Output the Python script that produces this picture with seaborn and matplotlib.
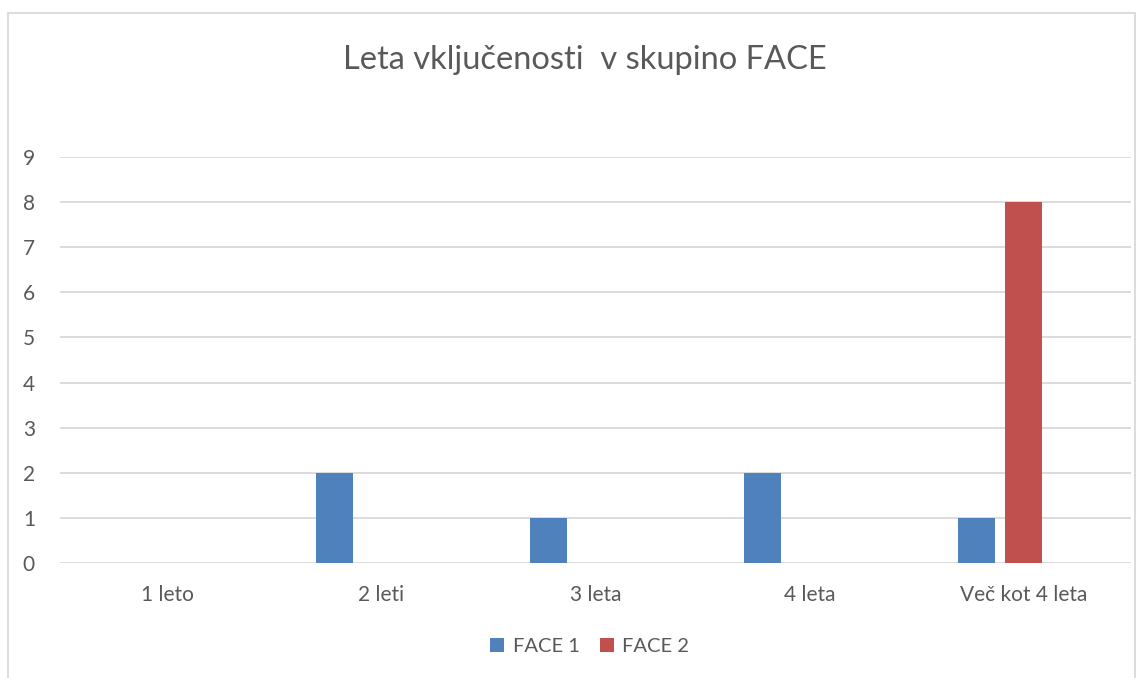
import numpy as np
import pandas as pd
import matplotlib
matplotlib.use('Agg')
import matplotlib.pyplot as plt
import seaborn as sns
from matplotlib.patches import Rectangle

# datos
kategorije = ['1 leto', '2 leti', '3 leta', '4 leta', 'Več kot 4 leta']
face1 = [0, 2, 1, 2, 1]
face2 = [0, 0, 0, 0, 8]
prazna = [0, 0, 0, 0, 0]   # tercera serie vacia (ocupa espacio en el grupo)
serije = ['FACE 1', 'FACE 2', ' ']
barve = ['#4F81BD', '#C0504D', '#9BBB59']

df = pd.DataFrame({
    'kategorija': kategorije * 3,
    'vrednost': face1 + face2 + prazna,
    'serija': [serije[0]] * 5 + [serije[1]] * 5 + [serije[2]] * 5,
})

sns.set_theme(style='white')
plt.rcParams['font.family'] = ['Lato', 'DejaVu Sans']
siva = '#595959'

fig = plt.figure(figsize=(11.47, 6.78), dpi=100)
ax = fig.add_axes([0.0523, 0.1696, 0.9337, 0.5988])

sns.barplot(data=df, x='kategorija', y='vrednost', hue='serija',
            order=kategorije, hue_order=serije, palette=barve,
            width=0.66, gap=0.21, ax=ax, errorbar=None, saturation=1,
            linewidth=0)

ax.set_ylim(0, 9)
ax.set_yticks(range(0, 10))
ax.set_xlim(-0.5, len(kategorije) - 0.5)
ax.yaxis.grid(True, color='#D9D9D9', linewidth=1.3)
ax.set_axisbelow(True)
for s in ax.spines.values():
    s.set_visible(False)
ax.set_xlabel('')
ax.set_ylabel('')
ax.tick_params(axis='both', length=0, labelsize=15, colors=siva)
ax.tick_params(axis='x', pad=16)
ax.tick_params(axis='y', pad=18)

# leyenda solo con las dos series
h, l = ax.get_legend_handles_labels()
ax.get_legend().remove()
fig.legend(h[:2], l[:2], loc='center', bbox_to_anchor=(0.514, 0.046), ncol=2,
           frameon=False, fontsize=14.5, labelcolor=siva,
           handlelength=0.7, handleheight=0.7, handletextpad=0.4, columnspacing=1.0)

fig.text(0.5096, 0.9115, 'Leta vključenosti  v skupino FACE', ha='center', va='center',
         fontsize=23.5, color=siva)

# marco del grafico
fig.patches.append(Rectangle((8 / 1147, -0.01), (1135 - 8) / 1147, 1 - 13 / 678 + 0.01,
                             transform=fig.transFigure, fill=False,
                             edgecolor='#D9D9D9', linewidth=1.3))

fig.savefig('out.png', dpi=100)
